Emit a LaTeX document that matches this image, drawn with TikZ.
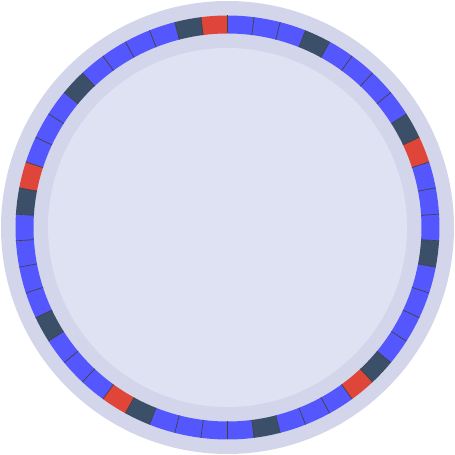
\documentclass[tikz,border=0pt]{standalone}
\definecolor{ringbg}{HTML}{D3D6EA}
\definecolor{facebg}{HTML}{DFE2F3}
\definecolor{tickblue}{HTML}{5557FE}
\definecolor{tickred}{HTML}{E0453A}
\definecolor{tickslate}{HTML}{3B5068}
\tikzset{
  tickline/.style={draw=black!75, line width=0.7pt},
}
\begin{document}
\begin{tikzpicture}[x=1pt, y=1pt]
\useasboundingbox (0,0) rectangle (455,455);
\begin{scope}[shift={(227.5,227.5)}]
\fill[ringbg] (0,0) circle (226.5pt);
\foreach \j in {0,...,49}{
  \pgfmathsetmacro{\a}{90+7.2*\j}
  \pgfmathsetmacro{\b}{\a+7.2}
  \pgfmathtruncatemacro{\m}{mod(\j,10)}
  \pgfmathtruncatemacro{\n}{mod(\j,5)}
  \ifnum\m=0 \def\segcol{tickred}\else\ifnum\n=1 \def\segcol{tickslate}\else\def\segcol{tickblue}\fi\fi
  \fill[\segcol] (\a:194pt) arc[start angle=\a, end angle=\b, radius=194pt] -- (\b:212pt) arc[start angle=\b, end angle=\a, radius=212pt] -- cycle;
}
\foreach \j in {0,...,49}
  \draw[tickline] ({90+7.2*\j}:194pt) -- ({90+7.2*\j}:212pt);
\fill[facebg] (0,0) circle (179.5pt);
\end{scope}
\end{tikzpicture}
\end{document}
